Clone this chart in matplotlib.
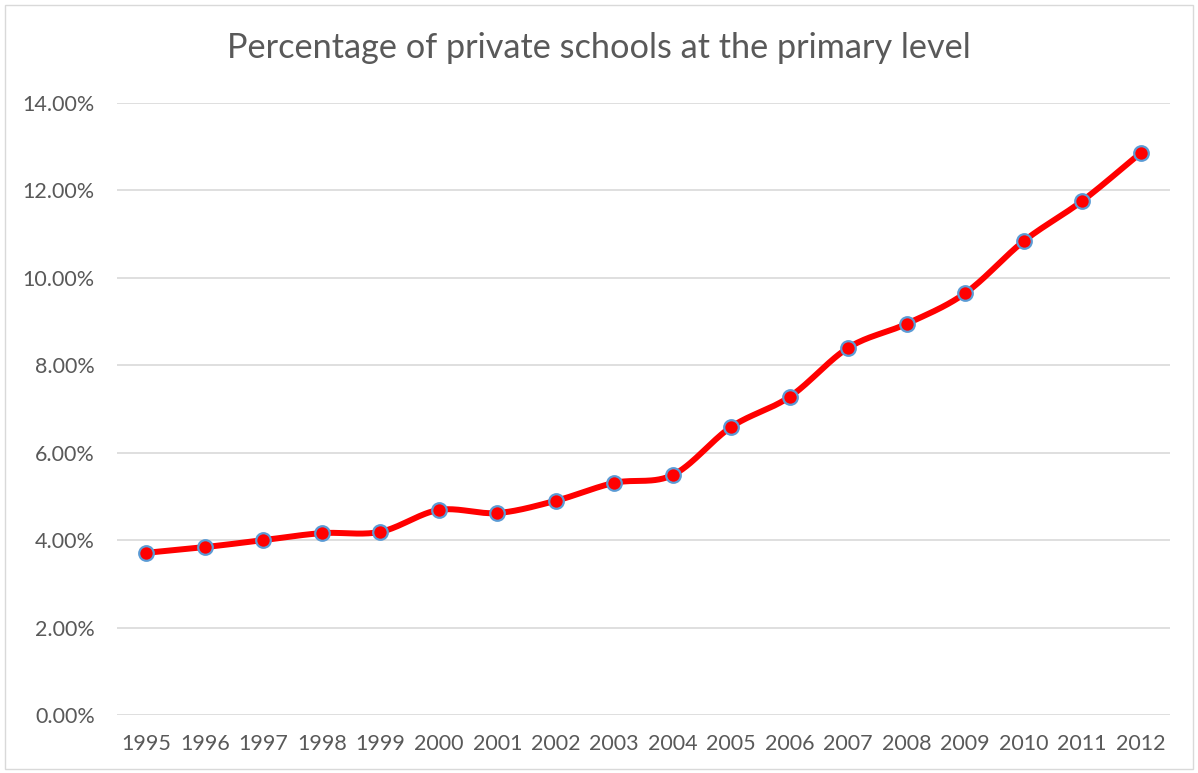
import numpy as np
import matplotlib
matplotlib.use("Agg")
import matplotlib.pyplot as plt
from matplotlib.patches import Rectangle
from matplotlib.ticker import FuncFormatter

years = ["1995", "1996", "1997", "1998", "1999", "2000", "2001", "2002", "2003",
         "2004", "2005", "2006", "2007", "2008", "2009", "2010", "2011", "2012"]
share_pct = [3.71, 3.84, 4.00, 4.16, 4.19, 4.69, 4.62, 4.90, 5.31,
             5.49, 6.59, 7.28, 8.40, 8.95, 9.65, 10.84, 11.76, 12.86]
y_ticks = [0, 2, 4, 6, 8, 10, 12, 14]

plt.rcParams["font.family"] = ["Lato", "DejaVu Sans"]
text_color = "#595959"
grid_color = "#d9d9d9"


def smooth_curve(x, y, samples=30):
    """Catmull-Rom spline through the points (curve shape only)."""
    x = np.asarray(x, float)
    y = np.asarray(y, float)
    px = np.concatenate([[2 * x[0] - x[1]], x, [2 * x[-1] - x[-2]]])
    py = np.concatenate([[2 * y[0] - y[1]], y, [2 * y[-1] - y[-2]]])
    out_x, out_y = [], []
    t = np.linspace(0, 1, samples, endpoint=False)
    for i in range(1, len(px) - 2):
        for arr, out in ((px, out_x), (py, out_y)):
            p0, p1, p2, p3 = arr[i - 1], arr[i], arr[i + 1], arr[i + 2]
            seg = 0.5 * ((2 * p1) + (-p0 + p2) * t
                         + (2 * p0 - 5 * p1 + 4 * p2 - p3) * t ** 2
                         + (-p0 + 3 * p1 - 3 * p2 + p3) * t ** 3)
            out.extend(seg)
    out_x.append(x[-1])
    out_y.append(y[-1])
    return np.array(out_x), np.array(out_y)


fig = plt.figure(figsize=(11.98, 7.73), dpi=100)
fig.patch.set_facecolor("white")
fig.patches.append(Rectangle((5 / 1198, 4 / 773), 1188 / 1198, 764 / 773,
                             transform=fig.transFigure, fill=False,
                             edgecolor="#d9d9d9", linewidth=1.0))

ax = fig.add_axes([117 / 1198, 1 - 715 / 773, 1053 / 1198, (715 - 103) / 773])
x = np.arange(len(years))
sx, sy = smooth_curve(x, share_pct)
ax.plot(sx, sy, color="#ff0000", linewidth=4.3, solid_capstyle="round", zorder=3)
ax.plot(x, share_pct, linestyle="none", marker="o", markersize=10.5,
        markerfacecolor="#ff0000", markeredgecolor="#5b9bd5",
        markeredgewidth=1.6, zorder=4)

ax.set_xlim(-0.5, len(years) - 0.5)
ax.set_ylim(0, 14)
ax.set_xticks(x)
ax.set_xticklabels(years)
ax.set_yticks(y_ticks)
ax.yaxis.set_major_formatter(FuncFormatter(lambda v, _: f"{v:.2f}%"))
ax.tick_params(axis="both", length=0, labelsize=15.5, colors=text_color)
ax.tick_params(axis="x", pad=14)
ax.tick_params(axis="y", pad=16)
ax.grid(axis="y", color=grid_color, linewidth=1.2)
ax.set_axisbelow(True)
for s in ax.spines.values():
    s.set_visible(False)

fig.text(0.5, 1 - 48 / 773, "Percentage of private schools at the primary level",
         ha="center", va="center", fontsize=24.7, color=text_color)

fig.savefig("out.png", dpi=100)
